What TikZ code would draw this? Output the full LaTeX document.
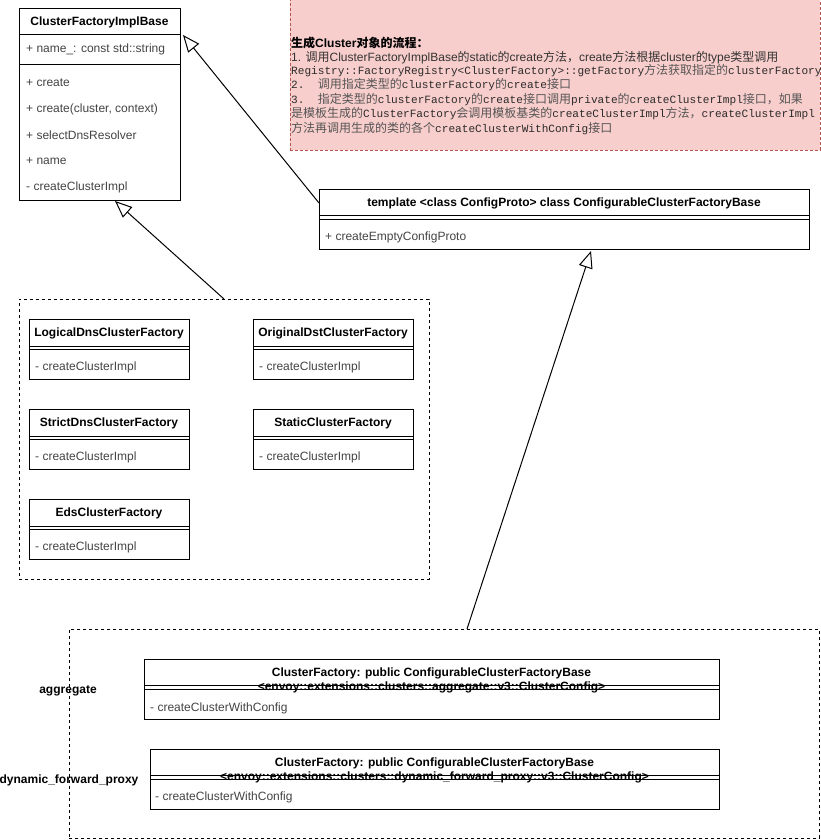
\documentclass[tikz,border=0pt]{standalone}
\usepackage{fontspec}
\setmainfont{Liberation Sans}
\newfontfamily\zhfont{Noto Sans CJK SC}
\newfontfamily\codefont{Liberation Mono}
\usetikzlibrary{arrows.meta}
\definecolor{notefill}{HTML}{F8CECC}
\definecolor{noteline}{HTML}{B85450}
\definecolor{itemgray}{HTML}{444444}
\definecolor{notetext}{HTML}{333333}
\definecolor{codedark}{HTML}{2A2A2A}
\definecolor{zhgray}{HTML}{555555}
\newcommand\zh[1]{{\zhfont #1}}
\newcommand\zc[1]{{\color{zhgray}\zhfont\fontsize{12}{15}\selectfont #1}}
\newcommand\mc[1]{{\color{codedark}\codefont\fontsize{11.1}{15}\selectfont #1}}
\begin{document}
\begin{tikzpicture}[x=1pt,y=-1pt,
  clsbox/.style={draw, line width=1pt, fill=white, anchor=north west, inner sep=0pt, outer sep=0pt},
  sep/.style={line width=1pt},
  ttl/.style={inner sep=0pt, font=\bfseries\fontsize{12}{14}\selectfont},
  item/.style={anchor=west, inner sep=0pt, text=itemgray, font=\fontsize{12}{14}\selectfont},
  grp/.style={draw, line width=1pt, dash pattern=on 3pt off 3pt, anchor=north west, inner sep=0pt, outer sep=0pt},
  notebox/.style={draw=noteline, fill=notefill, line width=1pt, dash pattern=on 3pt off 2pt, anchor=north west, inner sep=0pt, outer sep=0pt},
  ntxt/.style={anchor=west, inner sep=0pt, text=notetext, font=\fontsize{12}{14}\selectfont},
  inh/.style={line width=1pt, -{Triangle[open, length=17pt, width=14pt, fill=white]}},
  lbl/.style={inner sep=0pt, font=\bfseries\fontsize{12}{14}\selectfont}
]
\useasboundingbox (0,0) rectangle (820,840);

% note
\node[notebox, minimum width=530pt, minimum height=151pt] (note) at (290,-1) {};
\node[ntxt, text=black, font=\bfseries\fontsize{12}{14}\selectfont] (n0) at (291,43) {\zh{生成}Cluster\zh{对象的流程：}};
\node[ntxt] (n1) at (291,58) {1. \zh{调用}ClusterFactoryImplBase\zh{的}static\zh{的}create\zh{方法，}create\zh{方法根据}cluster\zh{的}type\zh{类型调用}};
\node[ntxt] (n2) at (291,71) {\mc{Registry::FactoryRegistry<ClusterFactory>::getFactory}\zc{方法获取指定的}\mc{clusterFactory}};
\node[ntxt] (n3) at (291,85) {\mc{2.\ \ }\zc{调用指定类型的}\mc{clusterFactory}\zc{的}\mc{create}\zc{接口}};
\node[ntxt] (n4) at (291,100) {\mc{3.\ \ }\zc{指定类型的}\mc{clusterFactory}\zc{的}\mc{create}\zc{接口调用}\mc{private}\zc{的}\mc{createClusterImpl}\zc{接口，如果}};
\node[ntxt] (n5) at (291,114) {\zc{是模板生成的}\mc{ClusterFactory}\zc{会调用模板基类的}\mc{createClusterImpl}\zc{方法，}\mc{createClusterImpl}};
\node[ntxt] (n6) at (291,129) {\zc{方法再调用生成的类的各个}\mc{createClusterWithConfig}\zc{接口}};

% groups
\node[grp, minimum width=410pt, minimum height=280pt] (g1) at (19,299) {};
\node[grp, minimum width=750pt, minimum height=209pt] (g2) at (69,629) {};

% ClusterFactoryImplBase
\node[clsbox, minimum width=161pt, minimum height=191pt] (cfib) at (19,9) {};
\node[ttl] (cfibt) at (99.5,22) {ClusterFactoryImplBase};
\draw[sep] ([yshift=-26pt]cfib.north west) -- ([yshift=-26pt]cfib.north east);
\draw[sep] ([yshift=-56pt]cfib.north west) -- ([yshift=-56pt]cfib.north east);
\node[item] (cfib1) at (26,49) {+ name\_: const std::string};
\node[item] (cfib2) at (26,83) {+ create};
\node[item] (cfib3) at (26,109) {+ create(cluster, context)};
\node[item] (cfib4) at (26,135) {+ selectDnsResolver};
\node[item] (cfib5) at (26,161) {+ name};
\node[item] (cfib6) at (26,187) {- createClusterImpl};

% ConfigurableClusterFactoryBase
\node[clsbox, minimum width=490pt, minimum height=60pt] (ccfb) at (319,189) {};
\node[ttl] (ccfbt) at (564,203) {template <class ConfigProto> class ConfigurableClusterFactoryBase};
\draw[sep] ([yshift=-26pt]ccfb.north west) -- ([yshift=-26pt]ccfb.north east);
\draw[sep] ([yshift=-30pt]ccfb.north west) -- ([yshift=-30pt]ccfb.north east);
\node[item] (ccfb1) at (325,237) {+ createEmptyConfigProto};

% group 1 classes
\node[clsbox, minimum width=160pt, minimum height=60pt] (ldns) at (29,319) {};
\node[ttl] (ldnst) at (109,333) {LogicalDnsClusterFactory};
\draw[sep] ([yshift=-27pt]ldns.north west) -- ([yshift=-27pt]ldns.north east);
\draw[sep] ([yshift=-30pt]ldns.north west) -- ([yshift=-30pt]ldns.north east);
\node[item] (ldns1) at (35,367) {- createClusterImpl};

\node[clsbox, minimum width=160pt, minimum height=60pt] (odst) at (253,319) {};
\node[ttl] (odstt) at (333,333) {OriginalDstClusterFactory};
\draw[sep] ([yshift=-27pt]odst.north west) -- ([yshift=-27pt]odst.north east);
\draw[sep] ([yshift=-30pt]odst.north west) -- ([yshift=-30pt]odst.north east);
\node[item] (odst1) at (259,367) {- createClusterImpl};

\node[clsbox, minimum width=160pt, minimum height=60pt] (sdns) at (29,409) {};
\node[ttl] (sdnst) at (109,423) {StrictDnsClusterFactory};
\draw[sep] ([yshift=-27pt]sdns.north west) -- ([yshift=-27pt]sdns.north east);
\draw[sep] ([yshift=-30pt]sdns.north west) -- ([yshift=-30pt]sdns.north east);
\node[item] (sdns1) at (35,457) {- createClusterImpl};

\node[clsbox, minimum width=160pt, minimum height=60pt] (stat) at (253,409) {};
\node[ttl] (statt) at (333,423) {StaticClusterFactory};
\draw[sep] ([yshift=-27pt]stat.north west) -- ([yshift=-27pt]stat.north east);
\draw[sep] ([yshift=-30pt]stat.north west) -- ([yshift=-30pt]stat.north east);
\node[item] (stat1) at (259,457) {- createClusterImpl};

\node[clsbox, minimum width=160pt, minimum height=60pt] (eds) at (29,499) {};
\node[ttl] (edst) at (109,513) {EdsClusterFactory};
\draw[sep] ([yshift=-27pt]eds.north west) -- ([yshift=-27pt]eds.north east);
\draw[sep] ([yshift=-30pt]eds.north west) -- ([yshift=-30pt]eds.north east);
\node[item] (eds1) at (35,547) {- createClusterImpl};

% group 2 classes
\node[clsbox, minimum width=575pt, minimum height=60pt] (agg) at (144,659) {};
\node[ttl] (aggt) at (431.5,673) {ClusterFactory: public ConfigurableClusterFactoryBase};
\node[ttl] (aggt2) at (431.5,687) {<envoy::extensions::clusters::aggregate::v3::ClusterConfig>};
\draw[sep] ([yshift=-26pt]agg.north west) -- ([yshift=-26pt]agg.north east);
\draw[sep] ([yshift=-30pt]agg.north west) -- ([yshift=-30pt]agg.north east);
\node[item] (agg1) at (150,708) {- createClusterWithConfig};

\node[clsbox, minimum width=569pt, minimum height=60pt] (dfp) at (150,749) {};
\node[ttl] (dfpt) at (434.5,763) {ClusterFactory: public ConfigurableClusterFactoryBase};
\node[ttl] (dfpt2) at (434.5,777) {<envoy::extensions::clusters::dynamic\_forward\_proxy::v3::ClusterConfig>};
\draw[sep] ([yshift=-26pt]dfp.north west) -- ([yshift=-26pt]dfp.north east);
\draw[sep] ([yshift=-30pt]dfp.north west) -- ([yshift=-30pt]dfp.north east);
\node[item] (dfp1) at (155,797) {- createClusterWithConfig};

\node[lbl] (lagg) at (68,691) {aggregate};
\node[lbl] (ldfp) at (69,780) {dynamic\_forward\_proxy};

% inheritance arrows
\draw[inh] ([yshift=16pt]ccfb.west) -- ([xshift=3pt,yshift=-26pt]cfib.north east);
\draw[inh] (g1.north) -- ([xshift=15.5pt,yshift=-1pt]cfib.south);
\draw[inh] ([xshift=23pt]g2.north) -- ([xshift=27pt,yshift=-2pt]ccfb.south);
\end{tikzpicture}
\end{document}
